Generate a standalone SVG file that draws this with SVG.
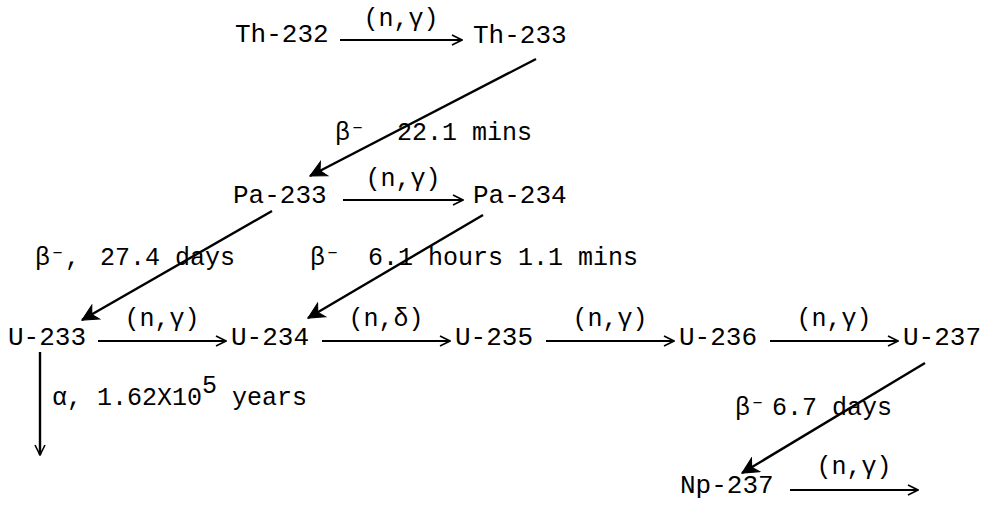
<svg xmlns="http://www.w3.org/2000/svg" width="996" height="506" viewBox="0 0 996 506">
<style>
text{font-family:"Liberation Mono","Courier New",monospace;fill:#000;}
.n{font-size:26px;}
.l{font-size:25px;}
.c{stroke:#000;stroke-width:1.8;fill:none;}
.d{stroke:#000;stroke-width:2.4;fill:none;}
</style>
<defs>
<marker id="ah" viewBox="0 0 12 12" refX="11" refY="6" markerWidth="12" markerHeight="12" markerUnits="userSpaceOnUse" orient="auto">
<path d="M1,1 L11,6 L1,11" fill="none" stroke="#000" stroke-width="1.6"/>
</marker>
<marker id="ahd" viewBox="0 0 16 16" refX="15" refY="8" markerWidth="18" markerHeight="18" markerUnits="userSpaceOnUse" orient="auto">
<path d="M1,1 L15,8 L1,15 L5,8 Z" fill="#000" stroke="#000" stroke-width="1"/>
</marker>
</defs>
<rect width="996" height="506" fill="#fff"/>
<g id="connectors">
<line class="c" x1="340" y1="40" x2="462" y2="40" marker-end="url(#ah)"/>
<line class="d" x1="536" y1="59" x2="310" y2="176" marker-end="url(#ahd)"/>
<line class="c" x1="343" y1="200" x2="463" y2="200" marker-end="url(#ah)"/>
<line class="d" x1="272" y1="211" x2="82" y2="320" marker-end="url(#ahd)"/>
<line class="d" x1="483" y1="215" x2="308" y2="318" marker-end="url(#ahd)"/>
<line class="c" x1="98" y1="341" x2="226" y2="341" marker-end="url(#ah)"/>
<line class="c" x1="322" y1="341" x2="450" y2="341" marker-end="url(#ah)"/>
<line class="c" x1="546" y1="341" x2="674" y2="341" marker-end="url(#ah)"/>
<line class="c" x1="770" y1="341" x2="898" y2="341" marker-end="url(#ah)"/>
<line class="d" x1="40" y1="352" x2="40" y2="455" marker-end="url(#ah)"/>
<line class="d" x1="925" y1="363" x2="742" y2="473" marker-end="url(#ahd)"/>
<line class="c" x1="790" y1="490" x2="918" y2="490" marker-end="url(#ah)"/>
<text class="l" x="401" y="26" text-anchor="middle">(n,γ)</text>
<text class="l" x="403" y="186" text-anchor="middle">(n,γ)</text>
<text class="l" x="162" y="326" text-anchor="middle">(n,γ)</text>
<text class="l" x="386" y="326" text-anchor="middle">(n,δ)</text>
<text class="l" x="610" y="326" text-anchor="middle">(n,γ)</text>
<text class="l" x="834" y="326" text-anchor="middle">(n,γ)</text>
<text class="l" x="854" y="474" text-anchor="middle">(n,γ)</text>
<text class="l" x="335" y="140">β⁻</text>
<text class="l" x="397" y="140">22.1 mins</text>
<text class="l" x="35" y="265">β⁻,</text>
<text class="l" x="100" y="265">27.4 days</text>
<text class="l" x="310" y="265">β⁻</text>
<text class="l" x="368" y="265">6.1 hours 1.1 mins</text>
<text class="l" x="52" y="405">α, 1.62X10<tspan dy="-12">5</tspan><tspan dy="12"> years</tspan></text>
<text class="l" x="735" y="415">β⁻</text>
<text class="l" x="772" y="415">6.7 days</text>
</g>
<g id="Th-232"><text class="n" x="235" y="42">Th-232</text></g>
<g id="Th-233"><text class="n" x="473" y="43">Th-233</text></g>
<g id="Pa-233"><text class="n" x="233" y="203">Pa-233</text></g>
<g id="Pa-234"><text class="n" x="473" y="203">Pa-234</text></g>
<g id="U-233"><text class="n" x="8" y="345">U-233</text></g>
<g id="U-234"><text class="n" x="231" y="345">U-234</text></g>
<g id="U-235"><text class="n" x="455" y="345">U-235</text></g>
<g id="U-236"><text class="n" x="679" y="345">U-236</text></g>
<g id="U-237"><text class="n" x="903" y="345">U-237</text></g>
<g id="Np-237"><text class="n" x="680" y="493">Np-237</text></g>
</svg>
